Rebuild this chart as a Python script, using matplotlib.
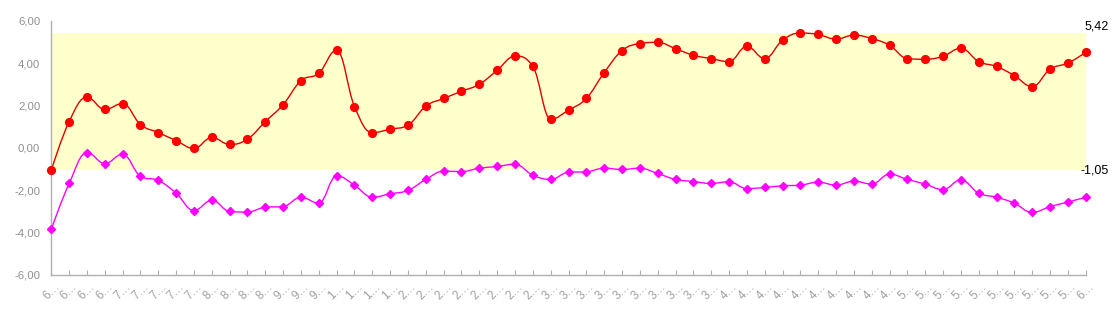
import numpy as np
import matplotlib
matplotlib.use("Agg")
import matplotlib.pyplot as plt
from matplotlib.path import Path
from matplotlib.patches import PathPatch

# ---- data ----
categories = (["6"] * 4 + ["7"] * 5 + ["8"] * 4 + ["9"] * 3 + ["1"] * 4 +
              ["2"] * 8 + ["3"] * 10 + ["4"] * 10 + ["5"] * 10 + ["6"])
tick_labels = [c + "…" for c in categories]

red_values = [-1.05, 1.24, 2.39, 1.81, 2.09, 1.10, 0.72, 0.34, -0.03, 0.49,
              0.16, 0.41, 1.24, 2.04, 3.17, 3.52, 4.61, 1.95, 0.72, 0.88,
              1.07, 1.97, 2.33, 2.67, 3.00, 3.66, 4.33, 3.84, 1.35, 1.78,
              2.33, 3.55, 4.59, 4.92, 4.98, 4.68, 4.37, 4.21, 4.07, 4.79,
              4.21, 5.08, 5.42, 5.35, 5.13, 5.32, 5.16, 4.84, 4.21, 4.18,
              4.32, 4.70, 4.07, 3.84, 3.41, 2.89, 3.71, 4.00, 4.50]

magenta_values = [-3.84, -1.68, -0.22, -0.74, -0.30, -1.34, -1.54, -2.14, -2.96, -2.47,
                  -3.00, -3.03, -2.80, -2.77, -2.33, -2.61, -1.32, -1.76, -2.33, -2.17,
                  -2.01, -1.49, -1.10, -1.12, -0.96, -0.88, -0.77, -1.29, -1.49, -1.15,
                  -1.13, -0.96, -1.02, -0.96, -1.21, -1.49, -1.59, -1.68, -1.60, -1.92,
                  -1.87, -1.79, -1.76, -1.62, -1.76, -1.57, -1.71, -1.24, -1.49, -1.71,
                  -1.97, -1.51, -2.14, -2.33, -2.61, -3.05, -2.77, -2.56, -2.33]

y_ticks = [-6, -4, -2, 0, 2, 4, 6]
band_low = -1.05
band_high = 5.42


def spline_path(xs, ys, smoothing=1.5):
    """Highcharts-style spline through the given points (bezier path)."""
    n = len(xs)
    denom = smoothing + 1
    lc = [None] * n
    rc = [None] * n
    for i in range(1, n - 1):
        x, y = xs[i], ys[i]
        lx, ly = xs[i - 1], ys[i - 1]
        nx, ny = xs[i + 1], ys[i + 1]
        lcx = (smoothing * x + lx) / denom
        lcy = (smoothing * y + ly) / denom
        rcx = (smoothing * x + nx) / denom
        rcy = (smoothing * y + ny) / denom
        corr = ((rcy - lcy) * (rcx - x)) / (rcx - lcx) + y - rcy
        lcy += corr
        rcy += corr
        if lcy > ly and lcy > y:
            lcy = max(ly, y)
            rcy = 2 * y - lcy
        elif lcy < ly and lcy < y:
            lcy = min(ly, y)
            rcy = 2 * y - lcy
        if rcy > ny and rcy > y:
            rcy = max(ny, y)
            lcy = 2 * y - rcy
        elif rcy < ny and rcy < y:
            rcy = min(ny, y)
            lcy = 2 * y - rcy
        lc[i] = (lcx, lcy)
        rc[i] = (rcx, rcy)
    verts = [(xs[0], ys[0])]
    codes = [Path.MOVETO]
    for i in range(1, n):
        c1 = rc[i - 1] if rc[i - 1] is not None else (xs[i - 1], ys[i - 1])
        c2 = lc[i] if lc[i] is not None else (xs[i], ys[i])
        verts += [c1, c2, (xs[i], ys[i])]
        codes += [Path.CURVE4] * 3
    return Path(verts, codes)


fig = plt.figure(figsize=(11.13, 3.25), dpi=100)
ax = fig.add_axes([51.3 / 1113, 1 - 275 / 325, (1085.7 - 51.3) / 1113, (275 - 20.7) / 325])

x = np.arange(len(red_values))

ax.axhspan(band_low, band_high, color="#ffffcc", zorder=0, lw=0)

for vals, lc, mc, mk, ms in [(red_values, "#dd0000", "#ff0000", "o", 5.6),
                              (magenta_values, "#ff00ff", "#ff00ff", "D", 4.0)]:
    p = spline_path(list(x.astype(float)), list(vals))
    ax.add_patch(PathPatch(p, fill=False, edgecolor=lc, lw=1.0, zorder=2))
    ax.plot(x, vals, linestyle="none", marker=mk, markersize=ms,
            markerfacecolor=mc, markeredgecolor=mc, zorder=3, clip_on=False)

ax.set_xlim(0, len(red_values) - 1)
ax.set_ylim(-6, 6)
ax.set_yticks(y_ticks)
ax.set_yticklabels([f"{v:.2f}".replace(".", ",") for v in y_ticks])
ax.set_xticks(x)
ax.set_xticklabels(tick_labels, rotation=45, ha="center", va="top")

for s in ["top", "right"]:
    ax.spines[s].set_visible(False)
for s in ["left", "bottom"]:
    ax.spines[s].set_color("#b0b0b0")
    ax.spines[s].set_linewidth(1.0)

ax.tick_params(axis="y", length=0, pad=8, labelsize=8.2, labelcolor="#909090",
               labelfontfamily="Liberation Sans")
ax.tick_params(axis="x", direction="in", length=3.5, color="#b0b0b0", pad=4,
               labelsize=8.5, labelcolor="#a0a0a0", labelfontfamily="Liberation Sans")

ax.text(1.0 + 23 / 1034, band_high, "5,42", transform=ax.get_yaxis_transform(),
        ha="right", va="bottom", fontsize=9, color="#000000",
        family="Liberation Sans", clip_on=False)
ax.text(1.0 + 23 / 1034, band_low, "-1,05", transform=ax.get_yaxis_transform(),
        ha="right", va="center", fontsize=9, color="#000000",
        family="Liberation Sans", clip_on=False)

fig.savefig("out.png", dpi=100)
